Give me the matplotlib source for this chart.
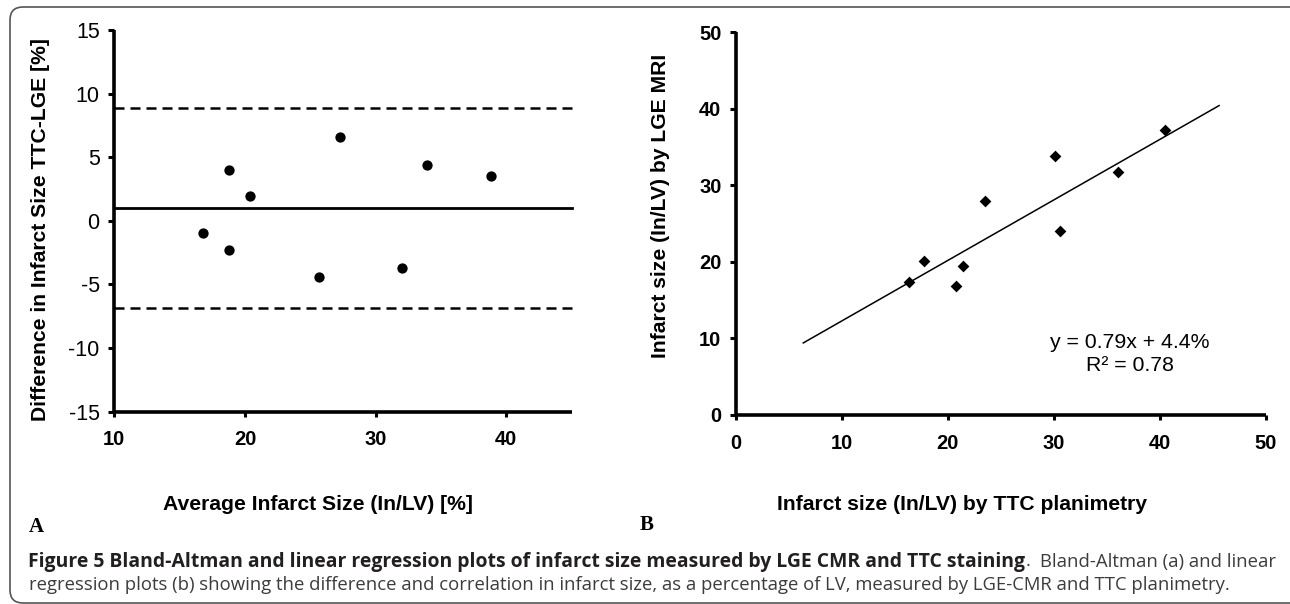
import matplotlib
matplotlib.use("Agg")
import matplotlib.pyplot as plt
from matplotlib.patches import FancyBboxPatch
from matplotlib.transforms import IdentityTransform

plt.rcParams['font.family'] = ['Liberation Sans', 'DejaVu Sans']
plt.rcParams['axes.unicode_minus'] = False

W, H = 1290, 604

# --- Panel A: Bland-Altman (TTC - LGE vs average) ---
ba_mean = [16.8, 18.8, 18.8, 20.4, 25.7, 27.3, 32.0, 33.9, 38.8]
ba_diff = [-0.96, 3.97, -2.27, 1.93, -4.39, 6.56, -3.69, 4.39, 3.50]
ba_bias = 1.0
ba_upper = 8.89
ba_lower = -6.85
ba_xticks = [10, 20, 30, 40]
ba_yticks = [-15, -10, -5, 0, 5, 10, 15]

# --- Panel B: linear regression LGE vs TTC ---
ttc = [16.3, 17.7, 20.8, 21.4, 23.5, 30.1, 30.6, 36.1, 40.5]
lge = [17.4, 20.1, 16.9, 19.5, 28.0, 33.9, 24.1, 31.8, 37.2]
fit_slope = 0.79
fit_intercept = 4.4
fit_r2 = 0.78
fit_x = [6.35, 45.6]
reg_ticks = [0, 10, 20, 30, 40, 50]

caption_bold = ("Figure 5 Bland-Altman and linear regression plots of infarct size "
                "measured by LGE CMR and TTC staining")
caption_rest = "Bland-Altman (a) and linear"
caption_line2 = ("regression plots (b) showing the difference and correlation in infarct size, "
                 "as a percentage of LV, measured by LGE-CMR and TTC planimetry.")


def px(x, y):
    # pixel position (top-left origin) -> figure fraction
    return x / W, 1 - y / H


def axes_box(x0, y0, x1, y1):
    return [x0 / W, 1 - y1 / H, (x1 - x0) / W, (y1 - y0) / H]


def style_axes(ax, bold_y):
    for s in ['top', 'right']:
        ax.spines[s].set_visible(False)
    for s in ['left', 'bottom']:
        ax.spines[s].set_linewidth(2.6)
        ax.spines[s].set_capstyle('butt')
    ax.tick_params(axis='y', direction='out', length=4.5, width=2.2, pad=6)
    ax.tick_params(axis='x', direction='out', length=3.5, width=2.2, pad=10)
    for lab in ax.get_xticklabels():
        lab.set_fontweight('bold')
    for lab in ax.get_yticklabels():
        lab.set_fontweight('bold' if bold_y else 'normal')


fig = plt.figure(figsize=(W / 100, H / 100), dpi=100)

# Panel A
ax1 = fig.add_axes(axes_box(114.3, 30, 571.7, 411.7))
ax1.scatter(ba_mean, ba_diff, s=55, color='black', zorder=3, linewidths=0)
ax1.plot([10, 45], [ba_bias, ba_bias], color='black', lw=2.0)
ax1.plot([10, 45], [ba_upper, ba_upper], color='black', lw=1.8, linestyle=(0, (4, 2.4)))
ax1.plot([10, 45], [ba_lower, ba_lower], color='black', lw=1.8, linestyle=(0, (4, 2.4)))
ax1.set_xlim(10, 45)
ax1.set_ylim(-15, 15)
ax1.set_xticks(ba_xticks)
ax1.set_yticks(ba_yticks)
ax1.tick_params(axis='x', labelsize=14.5)
ax1.tick_params(axis='y', labelsize=15.5)
style_axes(ax1, bold_y=False)

# Panel B
ax2 = fig.add_axes(axes_box(736, 32.3, 1265.7, 415))
ax2.scatter(ttc, lge, marker='D', s=36, color='black', zorder=3, linewidths=0)
ax2.plot(fit_x, [fit_slope * v + fit_intercept for v in fit_x], color='black', lw=1.1)
ax2.set_xlim(0, 50)
ax2.set_ylim(0, 50)
ax2.set_xticks(reg_ticks)
ax2.set_yticks(reg_ticks)
ax2.tick_params(labelsize=14.5)
style_axes(ax2, bold_y=True)
for ax in (ax1, ax2):
    for ln in ax.lines:
        ln.set_clip_on(False)

ax2.text(*px(1130, 342.7), f"y = {fit_slope}x + {fit_intercept}%", transform=fig.transFigure,
         ha='center', va='center', fontsize=15.3)
ax2.text(*px(1130, 365.7), f"R² = {fit_r2}", transform=fig.transFigure,
         ha='center', va='center', fontsize=15.3)

# axis titles
lab = dict(fontsize=15.2, fontweight='bold', ha='center', va='center')
fig.text(*px(41, 229.5), "Difference in Infarct Size TTC-LGE [%]", rotation=90, **lab)
fig.text(*px(660, 206), "Infarct size (In/LV) by LGE MRI", rotation=90, **lab)
fig.text(*px(318, 504), "Average Infarct Size (In/LV) [%]", **lab)
fig.text(*px(962, 504), "Infarct size (In/LV) by TTC planimetry", **lab)

# panel letters
serif = ['Liberation Serif', 'DejaVu Serif']
fig.text(*px(36.7, 527), "A", family=serif, fontweight='bold', fontsize=15, ha='center', va='center')
fig.text(*px(646.3, 525), "B", family=serif, fontweight='bold', fontsize=15, ha='center', va='center')

# caption, sized to the widths in the reference
renderer = fig.canvas.get_renderer()
cap_font = ['Open Sans', 'DejaVu Sans']


def text_width(s, size, weight):
    t = fig.text(0, 0, s, fontsize=size, fontweight=weight, family=cap_font)
    w = t.get_window_extent(renderer).width
    t.remove()
    return w


size_b = 10 * (1023 - 28.3) / text_width(caption_bold, 10, 'bold')
size_r = 10 * (1230.7 - 29) / text_width(caption_line2, 10, 'normal')
bold_w = text_width(caption_bold, size_b, 'bold')
fig.text(*px(28.3, 566.5), caption_bold, fontsize=size_b, fontweight='bold', family=cap_font,
         color='#231f20', ha='left', va='baseline')
fig.text(*px(28.3 + bold_w, 566.5), ".", fontsize=size_r, family=cap_font,
         color='#3c3c3c', ha='left', va='baseline')
fig.text(*px(1276, 566.5), caption_rest, fontsize=size_r, family=cap_font,
         color='#3c3c3c', ha='right', va='baseline')
fig.text(*px(29, 590), caption_line2, fontsize=size_r, family=cap_font,
         color='#3c3c3c', ha='left', va='baseline')

# rounded frame around the figure
frame = FancyBboxPatch((10, H - 603), 1295, 596, boxstyle="round,pad=0,rounding_size=13",
                       transform=IdentityTransform(), fill=False, edgecolor='#555555', lw=1.2)
fig.patches.append(frame)

fig.savefig("out.png", dpi=100)
